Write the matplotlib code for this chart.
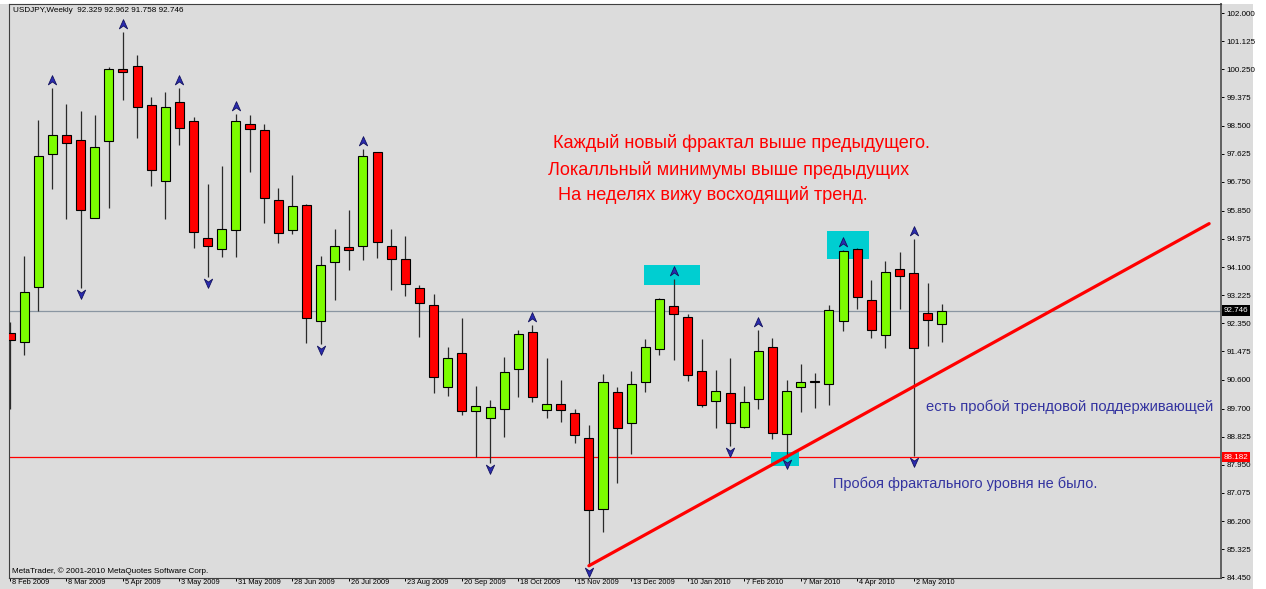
import matplotlib
matplotlib.use('Agg')
import matplotlib.pyplot as plt
from matplotlib.patches import Rectangle
from matplotlib.path import Path
from matplotlib.transforms import offset_copy, blended_transform_factory
import numpy as np

plt.rcParams['font.family'] = ['Liberation Sans', 'DejaVu Sans']

# ---------------- data (USDJPY weekly) ----------------
opens = [92.06, 91.77, 93.48, 97.61, 98.22, 98.06, 95.64, 98.03, 100.27, 100.35,
         99.15, 96.79, 99.23, 98.65, 95.01, 94.66, 95.26, 98.54, 98.36, 96.19,
         95.26, 96.03, 92.41, 94.25, 94.72, 94.74, 97.67, 94.76, 94.35, 93.45,
         92.93, 90.38, 91.43, 89.62, 89.42, 89.69, 90.94, 92.08, 89.65, 89.83,
         89.57, 88.79, 86.57, 90.22, 89.24, 90.52, 91.54, 92.90, 92.55, 90.87,
         89.92, 90.19, 89.12, 90.00, 91.62, 88.91, 90.38, 90.56, 90.47, 92.41,
         94.66, 93.07, 91.98, 94.05, 93.92, 92.67, 92.329]
highs = [92.40, 94.45, 98.68, 99.66, 99.16, 98.96, 98.82, 100.33, 101.40, 100.69,
         99.38, 99.55, 99.68, 98.78, 96.68, 97.23, 98.86, 98.82, 98.55, 96.56,
         96.95, 96.05, 94.45, 95.28, 95.88, 97.77, 97.69, 95.28, 95.05, 93.55,
         93.27, 91.62, 92.52, 90.40, 89.96, 91.30, 92.13, 92.31, 91.27, 90.58,
         89.69, 89.20, 90.76, 90.38, 90.88, 91.85, 93.13, 93.73, 92.65, 91.87,
         90.91, 91.28, 90.40, 92.13, 91.90, 90.58, 91.09, 90.81, 92.93, 94.64,
         94.68, 93.71, 94.28, 94.56, 94.97, 93.61, 92.962]
lows = [89.67, 91.38, 92.72, 96.53, 95.60, 93.45, 95.62, 95.93, 99.28, 98.11,
        96.61, 95.59, 97.91, 94.70, 93.79, 94.40, 94.40, 97.06, 95.47, 94.85,
        95.13, 91.74, 91.71, 93.07, 94.00, 94.33, 94.38, 93.40, 93.21, 91.93,
        90.19, 90.09, 89.49, 88.20, 88.00, 88.83, 90.05, 89.90, 89.42, 89.28,
        88.64, 84.81, 85.86, 87.38, 88.30, 90.21, 91.37, 91.22, 90.56, 89.76,
        89.11, 88.53, 89.11, 89.69, 88.74, 88.17, 89.59, 89.73, 89.80, 92.10,
        92.80, 91.89, 91.59, 92.80, 88.22, 91.64, 91.758]
closes = [91.82, 93.31, 97.54, 98.22, 97.97, 95.88, 97.82, 100.25, 100.17, 99.09,
          97.12, 99.07, 98.42, 95.19, 94.74, 95.29, 98.64, 98.39, 96.25, 95.16,
          96.00, 92.52, 94.17, 94.76, 94.64, 97.54, 94.88, 94.35, 93.56, 92.99,
          90.69, 91.26, 89.62, 89.78, 89.76, 90.85, 92.03, 90.07, 89.84, 89.64,
          88.87, 86.54, 90.52, 89.10, 90.47, 91.62, 93.11, 92.63, 90.75, 89.81,
          90.24, 89.24, 89.91, 91.48, 88.94, 90.24, 90.52, 90.54, 92.75, 94.59,
          93.16, 92.15, 93.95, 93.81, 91.57, 92.45, 92.746]

up_fractals = [3, 8, 12, 16, 25, 37, 47, 53, 59, 64]
down_fractals = [5, 14, 22, 34, 41, 51, 55, 64]

week_labels = ['8 Feb 2009', '8 Mar 2009', '5 Apr 2009', '3 May 2009', '31 May 2009',
               '28 Jun 2009', '26 Jul 2009', '23 Aug 2009', '20 Sep 2009',
               '18 Oct 2009', '15 Nov 2009', '13 Dec 2009', '10 Jan 2010',
               '7 Feb 2010', '7 Mar 2010', '4 Apr 2010', '2 May 2010']
price_ticks = [102.000, 101.125, 100.250, 99.375, 98.500, 97.625, 96.750, 95.850,
               94.975, 94.100, 93.225, 92.350, 91.475, 90.600, 89.700, 88.825,
               87.950, 87.075, 86.200, 85.325, 84.450]

last_price = 92.746
fractal_level = 88.182
trend_end = (84.93, 95.45)

header = 'USDJPY,Weekly  92.329 92.962 91.758 92.746'
copyright_txt = 'MetaTrader, © 2001-2010 MetaQuotes Software Corp.'
red_notes = ['Каждый новый фрактал выше предыдущего.',
             'Локалльный минимумы выше предыдущих',
             'На неделях вижу восходящий тренд.']
blue_notes = ['есть пробой трендовой поддерживающей',
              'Пробоя фрактального уровня не было.']

# ---------------- figure ----------------
W, H = 1266, 589
fig = plt.figure(figsize=(W / 100, H / 100), dpi=100)
fig.patch.set_facecolor('white')
fig.add_artist(Rectangle((0, 0), 1253 / W, 585 / H, transform=fig.transFigure,
                         facecolor='#dcdcdc', edgecolor='none', zorder=-10))

ax = fig.add_axes([9 / W, 11 / H, (1221 - 9) / W, (578 - 4) / H])
ax.set_facecolor('#dcdcdc')
ax.set_xlim(-0.07, 85.77)
ax.set_ylim(84.43, 102.28)

o = np.array(opens); h = np.array(highs); l = np.array(lows); c = np.array(closes)
x = np.arange(len(o))
bull = c >= o
bottom = np.minimum(o, c)
height = np.maximum(np.abs(c - o), 0.03)

ax.vlines(x, l, h, color='#2a2a2a', lw=0.9, zorder=3)
ax.bar(x[bull], height[bull], bottom=bottom[bull], width=0.64, color='#7cfc00',
       edgecolor='black', lw=0.8, zorder=4)
ax.bar(x[~bull], height[~bull], bottom=bottom[~bull], width=0.64, color='#ff0000',
       edgecolor='black', lw=0.8, zorder=4)

# cyan highlight boxes
for (bx, by, bw, bh) in [(44.9, 93.53, 4.0, 0.62), (57.9, 94.35, 2.95, 0.86),
                         (53.9, 87.91, 2.0, 0.44)]:
    ax.add_patch(Rectangle((bx, by), bw, bh, facecolor='#00ced1', edgecolor='none', zorder=2))

# horizontal levels
ax.axhline(last_price, color='#8a96a2', lw=0.9, zorder=1.5)
ax.axhline(fractal_level, color='#ff0000', lw=0.9, zorder=1.5)

# trend line
ax.plot([down_fractals[4], trend_end[0]], [lows[down_fractals[4]], trend_end[1]],
        color='#ff0000', lw=2.3, solid_capstyle='round', zorder=5)

# fractal markers
MV, LT, CL = Path.MOVETO, Path.LINETO, Path.CLOSEPOLY
up_path = Path([(0, 1), (0.85, -0.9), (0, -0.3), (-0.85, -0.9), (0, 1)], [MV, LT, LT, LT, CL])
dn_path = Path([(0, -1), (0.85, 0.9), (0, 0.3), (-0.85, 0.9), (0, -1)], [MV, LT, LT, LT, CL])
tr_up = offset_copy(ax.transData, fig=fig, x=0, y=8, units='dots')
tr_dn = offset_copy(ax.transData, fig=fig, x=0, y=-6, units='dots')
ax.plot(up_fractals, h[up_fractals], ls='none', marker=up_path, ms=7,
        mfc='#2b2bb0', mec='#12125e', mew=0.6, transform=tr_up, zorder=6)
ax.plot(down_fractals, l[down_fractals], ls='none', marker=dn_path, ms=7,
        mfc='#2b2bb0', mec='#12125e', mew=0.6, transform=tr_dn, zorder=6)

# axes styling
for s in ['top', 'left', 'bottom']:
    ax.spines[s].set_color('#404040'); ax.spines[s].set_linewidth(0.8)
ax.spines['right'].set_color('#606060'); ax.spines['right'].set_linewidth(1.4)

ax.yaxis.tick_right()
ax.set_yticks(price_ticks)
ax.set_yticklabels([f'{v:.3f}' for v in price_ticks])
ax.tick_params(axis='y', direction='out', length=2.2, width=0.7, pad=1.5,
               labelsize=5.8, colors='black')

xticks = list(range(0, 4 * len(week_labels), 4))
ax.set_xticks(xticks)
ax.set_xticklabels([''] * len(xticks))
ax.tick_params(axis='x', direction='out', length=2.2, width=0.7, colors='black')
bx_t = offset_copy(blended_transform_factory(ax.transData, ax.transAxes),
                   fig=fig, x=2, y=-1.5, units='dots')
for pos, lab in zip(xticks, week_labels):
    ax.text(pos, 0, lab, transform=bx_t, fontsize=5.3, color='black',
            ha='left', va='top', clip_on=False)

bt = blended_transform_factory(ax.transAxes, ax.transData)
ax.text(1.0025, last_price, f'{last_price:.3f}', transform=bt, fontsize=5.8, color='white',
        va='center', ha='left', bbox=dict(boxstyle='square,pad=0.2', fc='black', ec='none'),
        zorder=10, clip_on=False)
ax.text(1.0025, fractal_level, f'{fractal_level:.3f}', transform=bt, fontsize=5.8, color='white',
        va='center', ha='left', bbox=dict(boxstyle='square,pad=0.2', fc='#ff0000', ec='none'),
        zorder=10, clip_on=False)

fig.text(13 / W, 1 - 11 / H, header, fontsize=5.9, color='black', va='center', ha='left')
fig.text(12 / W, 1 - 571 / H, copyright_txt, fontsize=5.9, color='black', va='center', ha='left')

renderer = fig.canvas.get_renderer()


def fit_text(x0, x1, yc, s, color):
    t = fig.text(x0 / W, 1 - yc / H, s, fontsize=12, color=color, va='center', ha='left')
    bb = t.get_window_extent(renderer)
    t.set_fontsize(12 * (x1 - x0) / bb.width)
    return t


fit_text(553, 930, 143, red_notes[0], '#ff0000')
fit_text(548, 908, 170, red_notes[1], '#ff0000')
fit_text(558, 868, 195, red_notes[2], '#ff0000')
fit_text(926, 1212, 407, blue_notes[0], '#3434a0')
fit_text(833, 1097, 484, blue_notes[1], '#3434a0')

fig.savefig('out.png', dpi=100, facecolor=fig.get_facecolor())
